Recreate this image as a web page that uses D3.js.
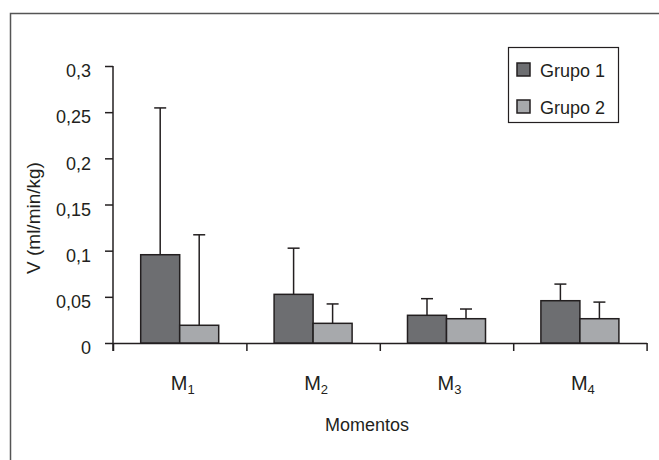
<!DOCTYPE html>
<html>
<head>
<meta charset="utf-8">
<script src="https://cdn.jsdelivr.net/npm/d3@7"></script>
<style>
  body { margin: 0; background: #ffffff; }
  svg text { font-family: "Liberation Sans", Arial, sans-serif; fill: #231f20; }
</style>
</head>
<body>
<div class="chart"></div>
<script>
// ******************** DATA ********************
const moments = ["M1", "M2", "M3", "M4"]
const groups = ["Grupo 1", "Grupo 2"]
const grupo1Mean = [0.0956, 0.0527, 0.030, 0.0458]
const grupo1Sd = [0.159, 0.050, 0.018, 0.018]
const grupo2Mean = [0.0192, 0.0213, 0.0263, 0.0263]
const grupo2Sd = [0.098, 0.021, 0.0105, 0.018]
const yTicks = [0, 0.05, 0.1, 0.15, 0.2, 0.25, 0.3]

const colors = ["#6d6e71", "#a7a9ac"]
const ink = "#231f20"

// rows for drawing
const rows = []
moments.forEach((m, i) => {
  rows.push({ moment: m, group: groups[0], mean: grupo1Mean[i], sd: grupo1Sd[i] })
  rows.push({ moment: m, group: groups[1], mean: grupo2Mean[i], sd: grupo2Sd[i] })
})

// ******************** SIZES ********************
const width = 659
const height = 460
const plot = { left: 113, right: 646.6, top: 66, bottom: 343 }

const svg = d3.select(".chart")
  .append("svg")
  .attr("width", width)
  .attr("height", height)

// outer frame (only top and left show in the picture)
svg.append("rect")
  .attr("x", 10.5)
  .attr("y", 13.5)
  .attr("width", 700)
  .attr("height", 500)
  .attr("fill", "none")
  .attr("stroke", "#555555")
  .attr("stroke-width", 1.5)

// scales
const xScale = d3.scaleBand()
  .domain(moments)
  .range([plot.left, plot.right])

const xInner = d3.scaleBand()
  .domain(groups)
  .range([0, xScale.bandwidth()])
  .paddingOuter(0.71)

const yScale = d3.scaleLinear()
  .domain([0, 0.3])
  .range([plot.bottom, plot.top])

const color = d3.scaleOrdinal().domain(groups).range(colors)

// y-axis
const yAxis = d3.axisLeft(yScale)
  .tickValues(yTicks)
  .tickSize(8)
  .tickFormat((d) => String(d).replace(".", ","))

const yG = svg.append("g")
  .attr("transform", "translate(" + plot.left + ",0)")
  .call(yAxis)
yG.select(".domain").remove()
yG.selectAll(".tick line").attr("stroke", ink).attr("stroke-width", 1.5)
yG.selectAll(".tick text")
  .attr("x", -22)
  .attr("dy", "0.6em")
  .attr("fill", ink)
  .style("font-size", "18px")
  .style("font-family", "'Liberation Sans', Arial, sans-serif")

svg.append("line")
  .attr("x1", plot.left).attr("x2", plot.left)
  .attr("y1", plot.top).attr("y2", plot.bottom + 8)
  .attr("stroke", ink).attr("stroke-width", 1.5)

// x-axis: ticks at category boundaries
const xEdges = d3.scaleLinear().domain([0, moments.length]).range([plot.left, plot.right])
const xAxis = d3.axisBottom(xEdges)
  .ticks(moments.length)
  .tickSize(8)
  .tickFormat("")
  .tickSizeOuter(0)
const xG = svg.append("g")
  .attr("transform", "translate(0," + plot.bottom + ")")
  .call(xAxis)
xG.select(".domain").attr("stroke", ink).attr("stroke-width", 1.5)
xG.selectAll(".tick line").attr("stroke", ink).attr("stroke-width", 1.5)

// bars
svg.selectAll(".bar")
  .data(rows)
  .enter()
  .append("rect")
  .attr("class", "bar")
  .attr("x", (d) => xScale(d.moment) + xInner(d.group))
  .attr("y", (d) => yScale(d.mean))
  .attr("width", xInner.bandwidth())
  .attr("height", (d) => yScale(0) - yScale(d.mean))
  .attr("fill", (d) => color(d.group))
  .attr("stroke", ink)
  .attr("stroke-width", 1.5)

// error bars (upper only)
const cx = (d) => xScale(d.moment) + xInner(d.group) + xInner.bandwidth() / 2
svg.selectAll(".err")
  .data(rows)
  .enter()
  .append("line")
  .attr("class", "err")
  .attr("x1", cx).attr("x2", cx)
  .attr("y1", (d) => yScale(d.mean))
  .attr("y2", (d) => yScale(d.mean + d.sd))
  .attr("stroke", ink)
  .attr("stroke-width", 1.5)

svg.selectAll(".cap")
  .data(rows)
  .enter()
  .append("line")
  .attr("class", "cap")
  .attr("x1", (d) => cx(d) - 6).attr("x2", (d) => cx(d) + 6)
  .attr("y1", (d) => yScale(d.mean + d.sd))
  .attr("y2", (d) => yScale(d.mean + d.sd))
  .attr("stroke", ink)
  .attr("stroke-width", 1.5)

// category labels with subscripts
const catLabels = svg.selectAll(".cat")
  .data(moments)
  .enter()
  .append("text")
  .attr("class", "cat")
  .attr("x", (d) => xScale(d) + xScale.bandwidth() / 2 + 3)
  .attr("y", 390)
  .attr("text-anchor", "middle")
  .style("font-size", "20px")
catLabels.append("tspan").text((d) => d.charAt(0))
catLabels.append("tspan")
  .attr("dy", 4)
  .style("font-size", "13px")
  .text((d) => d.slice(1))

// axis titles
svg.append("text")
  .attr("x", 367)
  .attr("y", 431)
  .attr("text-anchor", "middle")
  .style("font-size", "18px")
  .text("Momentos")

svg.append("text")
  .attr("transform", "translate(40,218) rotate(-90)")
  .attr("text-anchor", "middle")
  .style("font-size", "19px")
  .text("V (ml/min/kg)")

// legend
const legend = svg.append("g")
legend.append("rect")
  .attr("x", 508.5)
  .attr("y", 47.5)
  .attr("width", 110)
  .attr("height", 75)
  .attr("fill", "#ffffff")
  .attr("stroke", ink)
  .attr("stroke-width", 1.2)

const items = legend.selectAll(".item")
  .data(groups)
  .enter()
  .append("g")
  .attr("class", "item")
  .attr("transform", (d, i) => "translate(517," + (63 + i * 37) + ")")
items.append("rect")
  .attr("width", 13)
  .attr("height", 13)
  .attr("fill", (d) => color(d))
  .attr("stroke", ink)
  .attr("stroke-width", 1.5)
items.append("text")
  .attr("x", 23)
  .attr("y", 14)
  .style("font-size", "18px")
  .text((d) => d)
</script>
</body>
</html>
